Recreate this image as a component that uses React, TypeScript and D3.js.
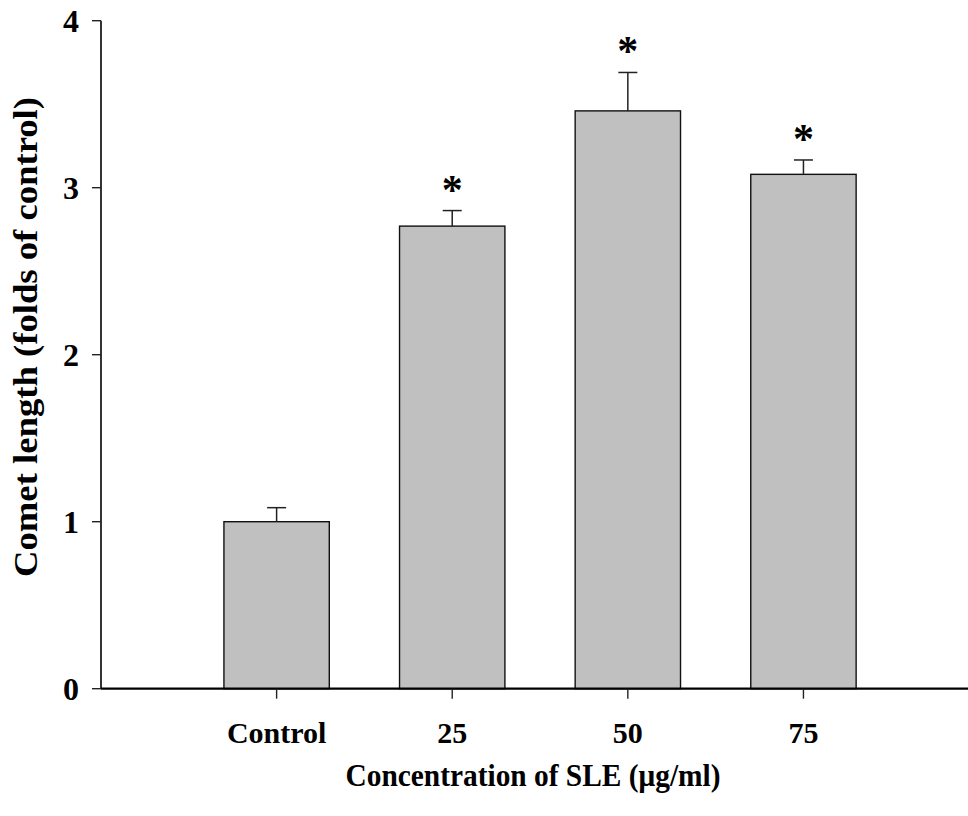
import React from "react";
import * as d3 from "d3";

const categories = ["Control", "25", "50", "75"];
const means = [1.0, 2.77, 3.46, 3.08];
const errors = [0.084, 0.093, 0.23, 0.086];
const significant = [false, true, true, true];
const yTicks = [0, 1, 2, 3, 4];

const W = 968;
const H = 816;
const FONT = "'Liberation Serif', 'Times New Roman', serif";

export default function App() {
  const y = d3.scaleLinear().domain([0, 4]).range([688.7, 20.7]);
  const x = d3.scaleLinear().domain([0, 4.937]).range([101, 968]);
  const pos = categories.map((_, i) => i + 1);
  const barW = x(0.6) - x(0);
  const capHalf = 9.5;

  return (
    <div style={{ position: "absolute", left: 0, top: 0 }}>
      <svg width={W} height={H} style={{ display: "block", background: "#fff" }}>
        {/* bars */}
        {means.map((m, i) => (
          <rect
            key={"b" + i}
            x={x(pos[i]) - barW / 2}
            y={y(m)}
            width={barW}
            height={y(0) - y(m)}
            fill="#c0c0c0"
            stroke="#111"
            strokeWidth={1.4}
          />
        ))}
        {/* error bars */}
        {means.map((m, i) => (
          <g key={"e" + i} stroke="#222" strokeWidth={1.5}>
            <line x1={x(pos[i])} x2={x(pos[i])} y1={y(m)} y2={y(m + errors[i])} />
            <line
              x1={x(pos[i]) - capHalf}
              x2={x(pos[i]) + capHalf}
              y1={y(m + errors[i])}
              y2={y(m + errors[i])}
            />
          </g>
        ))}
        {/* asterisks */}
        {means.map((m, i) =>
          significant[i] ? (
            <text
              key={"s" + i}
              x={x(pos[i])}
              y={y(m + errors[i]) - 7}
              textAnchor="middle"
              fontFamily={FONT}
              fontWeight="bold"
              fontSize={42}
              fill="#000"
            >
              *
            </text>
          ) : null
        )}
        {/* y axis */}
        <line x1={x(0)} x2={x(0)} y1={y(4)} y2={y(0)} stroke="#000" strokeWidth={1.6} />
        {yTicks.map((t) => (
          <g key={"yt" + t}>
            <line x1={x(0) - 9} x2={x(0)} y1={y(t)} y2={y(t)} stroke="#222" strokeWidth={1.4} />
            <text
              x={79}
              y={y(t)}
              dy="0.35em"
              textAnchor="end"
              fontFamily={FONT}
              fontWeight="bold"
              fontSize={32}
              fill="#000"
            >
              {t}
            </text>
          </g>
        ))}
        {/* x axis */}
        <line x1={x(0)} x2={W} y1={y(0)} y2={y(0)} stroke="#000" strokeWidth={2.2} />
        {categories.map((c, i) => (
          <g key={"xt" + i}>
            <line x1={x(pos[i])} x2={x(pos[i])} y1={y(0)} y2={y(0) + 10} stroke="#222" strokeWidth={1.4} />
            <text
              x={x(pos[i])}
              y={743}
              textAnchor="middle"
              fontFamily={FONT}
              fontWeight="bold"
              fontSize={30}
              fill="#000"
            >
              {c}
            </text>
          </g>
        ))}
        {/* axis titles */}
        <text
          x={533}
          y={786}
          textAnchor="middle"
          fontFamily={FONT}
          fontWeight="bold"
          fontSize={31}
          textLength={375}
          lengthAdjust="spacingAndGlyphs"
          fill="#000"
        >
          Concentration of SLE (μg/ml)
        </text>
        <text
          transform="translate(37,337) rotate(-90)"
          textAnchor="middle"
          fontFamily={FONT}
          fontWeight="bold"
          fontSize={34}
          textLength={480}
          lengthAdjust="spacingAndGlyphs"
          fill="#000"
        >
          Comet length (folds of control)
        </text>
      </svg>
    </div>
  );
}
